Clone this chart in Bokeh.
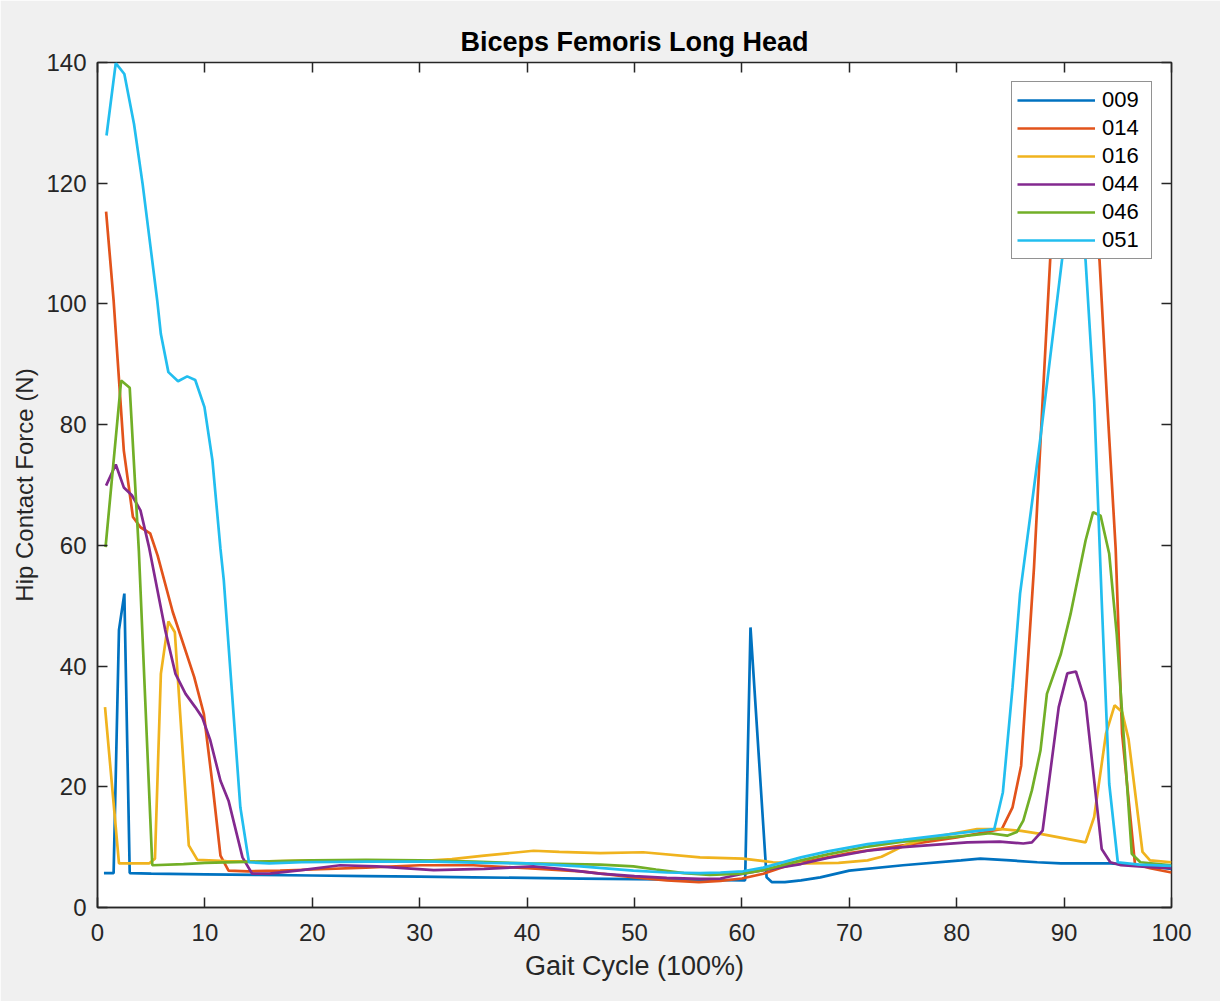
from bokeh.plotting import figure
from bokeh.models import LinearAxis, FixedTicker, Range1d, Legend, LegendItem
from bokeh.embed import file_html
from bokeh.resources import INLINE

title_text = "Biceps Femoris Long Head"
x_label = "Gait Cycle (100%)"
y_label = "Hip Contact Force (N)"
names = ["009", "014", "016", "044", "046", "051"]
colors = ["#0072C0", "#E2531B", "#F0B31E", "#83298F", "#72AF27", "#22BEEF"]
x_ticks = [0, 10, 20, 30, 40, 50, 60, 70, 80, 90, 100]
y_ticks = [0, 20, 40, 60, 80, 100, 120, 140]

x_009 = [0.6, 1.5, 2.0, 2.5, 3.0, 5, 10, 15, 20, 25, 30, 35, 40, 45, 50, 55, 60.3, 60.8, 62.3, 62.8, 64, 65.5, 67.3, 70, 75, 80.4, 82.2, 85, 87.5, 89.7, 94.3, 96, 98, 100]
y_009 = [5.7, 5.7, 46, 52, 5.7, 5.6, 5.5, 5.4, 5.3, 5.2, 5.1, 5.0, 4.9, 4.8, 4.7, 4.6, 4.5, 46.4, 5.0, 4.2, 4.2, 4.5, 5.0, 6.1, 7.0, 7.8, 8.1, 7.8, 7.5, 7.3, 7.3, 7.1, 6.8, 6.4]

x_014 = [0.8, 1.5, 2.45, 3.3, 4.0, 4.9, 5.6, 7.0, 9.0, 9.9, 10.7, 11.45, 12.2, 14, 17, 20, 25, 30, 35, 40, 45, 50, 53, 56, 58, 60, 62, 64, 66, 70, 75, 80, 84.2, 85.2, 86.0, 87.2, 88.0, 88.7, 89.3, 90.5, 92.0, 93.3, 94.0, 94.8, 95.4, 96.6, 98, 100]
y_014 = [115.3, 100.6, 75.7, 64.7, 63, 62, 58.3, 49, 38.2, 32.1, 20.5, 8.6, 6.1, 6.0, 6.1, 6.3, 6.6, 7.0, 7.0, 6.5, 6.0, 5.0, 4.5, 4.2, 4.4, 4.8, 5.6, 6.8, 7.6, 9.0, 10.3, 11.6, 13.0, 16.6, 23.5, 56.4, 84, 107.2, 120, 125, 124, 107.2, 84, 59.5, 28.8, 7.2, 6.5, 5.8]

x_016 = [0.7, 2.0, 4.8, 5.35, 5.9, 6.6, 7.2, 8.5, 9.3, 12, 15, 20, 25, 30, 33, 36, 40.6, 43, 46.8, 50.8, 56.1, 60.1, 62.9, 66, 69, 71.7, 73, 75.4, 78, 81.9, 84.2, 86, 87.8, 92.0, 92.8, 93.9, 94.7, 95.4, 96.0, 97.3, 98.0, 100]
y_016 = [33.2, 7.3, 7.3, 8.1, 38.7, 47.4, 45.6, 10.3, 7.9, 7.7, 7.6, 7.8, 7.8, 7.7, 8.0, 8.6, 9.4, 9.2, 9.0, 9.15, 8.3, 8.1, 7.5, 7.3, 7.4, 7.8, 8.4, 10.5, 11.7, 13.0, 13.0, 12.7, 12.2, 10.8, 15.0, 28.8, 33.5, 32.4, 27.9, 9.2, 7.8, 7.5]

x_044 = [0.8, 1.7, 2.45, 3.2, 4.0, 4.8, 5.4, 6.3, 7.26, 8.2, 9.1, 9.75, 10.5, 11.45, 12.2, 13.5, 14.4, 16, 19, 22.6, 26, 31.3, 36, 40.6, 43, 46.8, 50, 53, 56.1, 58, 60.1, 62, 65.5, 68, 71.7, 75, 81, 84, 86.2, 87.0, 88.0, 89.5, 90.3, 91.1, 92.0, 93.5, 94.3, 95.3, 98, 100]
y_044 = [69.9, 73.4, 69.6, 68.3, 65.8, 59.7, 54.2, 46, 38.7, 35.4, 33.2, 31.5, 27.7, 21.0, 17.7, 8.3, 5.6, 5.6, 6.2, 7.0, 6.8, 6.2, 6.4, 6.8, 6.4, 5.6, 5.2, 4.9, 4.75, 4.8, 5.6, 6.2, 7.2, 8.2, 9.4, 10.0, 10.8, 10.9, 10.6, 10.8, 12.75, 33.2, 38.8, 39.1, 34.0, 9.7, 7.5, 7.0, 6.7, 6.5]

x_046 = [0.75, 2.2, 3.0, 3.85, 5.1, 8, 10, 15, 20, 25, 30, 35, 40, 46.8, 49.9, 52, 54.6, 57, 60.1, 62, 65.5, 68, 71.7, 75, 81, 83.1, 84.7, 85.6, 86.2, 87.0, 87.8, 88.4, 89.7, 90.6, 92.0, 92.7, 93.4, 94.2, 94.9, 96.3, 97.1, 100]
y_046 = [59.7, 87.3, 86.1, 59.1, 7.0, 7.2, 7.4, 7.6, 7.8, 7.9, 7.8, 7.6, 7.3, 7.1, 6.8, 6.3, 5.7, 5.4, 5.6, 6.2, 7.8, 8.8, 10.1, 10.9, 11.9, 12.3, 11.9, 12.5, 14.4, 19.4, 26.0, 35.4, 42.0, 48.6, 60.8, 65.5, 64.9, 58.6, 45.3, 8.9, 7.5, 7.0]

x_051 = [0.84, 1.7, 2.5, 3.4, 4.2, 5.56, 5.9, 6.6, 7.5, 8.35, 9.1, 9.96, 10.7, 11.45, 11.76, 13.3, 14.1, 16, 19, 25, 31.3, 36, 40, 45, 49.9, 53, 56.1, 58, 60.1, 62, 65.5, 68, 71.7, 75, 81, 83.5, 84.3, 85.2, 85.9, 87.0, 87.8, 89.8, 90.6, 91.4, 92.0, 92.8, 93.5, 94.2, 95.0, 97, 100]
y_051 = [127.9, 139.9, 138.1, 129.8, 119.9, 100.6, 95.0, 88.7, 87.2, 88.0, 87.4, 82.9, 74.1, 59.4, 54.2, 16.6, 7.5, 7.3, 7.5, 7.6, 7.6, 7.4, 7.3, 6.8, 6.1, 5.8, 5.7, 5.8, 6.0, 6.6, 8.3, 9.3, 10.5, 11.2, 12.5, 13.0, 19.1, 36.5, 52, 66.9, 77.9, 107.2, 116, 116, 107.2, 84, 50.9, 20.5, 7.5, 7.1, 6.9]

series_x = [x_009, x_014, x_016, x_044, x_046, x_051]
series_y = [y_009, y_014, y_016, y_044, y_046, y_051]

FONT = "Liberation Sans"
AX = "#262626"

p = figure(width=1220, height=1001, output_backend="svg", toolbar_location=None,
           x_range=Range1d(0, 100), y_range=Range1d(0, 140),
           min_border_left=97, min_border_right=49, min_border_top=62, min_border_bottom=94,
           title=title_text)
p.border_fill_color = "#f0f0f0"
p.background_fill_color = "white"
p.outline_line_color = AX
p.outline_line_width = 1.5
p.grid.visible = False

p.title.align = "center"
p.title.text_font = FONT
p.title.text_font_size = "27px"
p.title.text_font_style = "bold"
p.title.text_color = "black"
p.title.standoff = 12

for ax, ticks in ((p.xaxis[0], x_ticks), (p.yaxis[0], y_ticks)):
    ax.ticker = FixedTicker(ticks=ticks)
    ax.major_tick_in = 10
    ax.major_tick_out = 0
    ax.minor_tick_in = 0
    ax.minor_tick_out = 0
    ax.axis_line_color = AX
    ax.axis_line_width = 1.5
    ax.major_tick_line_color = AX
    ax.major_tick_line_width = 1.5
    ax.major_label_text_font = FONT
    ax.major_label_text_font_size = "24px"
    ax.major_label_text_color = AX
    ax.axis_label_text_font = FONT
    ax.axis_label_text_font_style = "normal"
    ax.axis_label_text_color = AX

p.xaxis[0].axis_label = x_label
p.yaxis[0].axis_label = y_label
p.xaxis[0].axis_label_text_font_size = "27px"
p.yaxis[0].axis_label_text_font_size = "24px"
p.xaxis[0].major_label_standoff = 16
p.yaxis[0].major_label_standoff = 11
p.xaxis[0].axis_label_standoff = 7
p.yaxis[0].axis_label_standoff = 5

top_axis = LinearAxis(ticker=FixedTicker(ticks=x_ticks))
right_axis = LinearAxis(ticker=FixedTicker(ticks=y_ticks))
for ax in (top_axis, right_axis):
    ax.major_tick_in = 10
    ax.major_tick_out = 0
    ax.minor_tick_in = 0
    ax.minor_tick_out = 0
    ax.major_tick_line_color = AX
    ax.major_tick_line_width = 1.5
    ax.axis_line_color = None
    ax.major_label_text_font_size = "0px"
    ax.major_label_standoff = 0
p.add_layout(top_axis, "above")
p.add_layout(right_axis, "right")

items = []
for name, c, xs, ys in zip(names, colors, series_x, series_y):
    r = p.line(xs, ys, line_color=c, line_width=2.7)
    items.append(LegendItem(label=name, renderers=[r]))

legend = Legend(items=items, location="top_right")
legend.margin = 19
legend.padding = 5
legend.spacing = 2
legend.glyph_width = 78
legend.glyph_height = 24
legend.label_height = 24
legend.label_width = 44
legend.label_standoff = 7
legend.label_text_font = FONT
legend.label_text_font_size = "22px"
legend.label_text_color = "black"
legend.border_line_color = AX
legend.border_line_width = 1.2
legend.background_fill_color = "white"
legend.background_fill_alpha = 1.0
p.add_layout(legend)

open("out.html", "w").write(file_html(p, INLINE))
